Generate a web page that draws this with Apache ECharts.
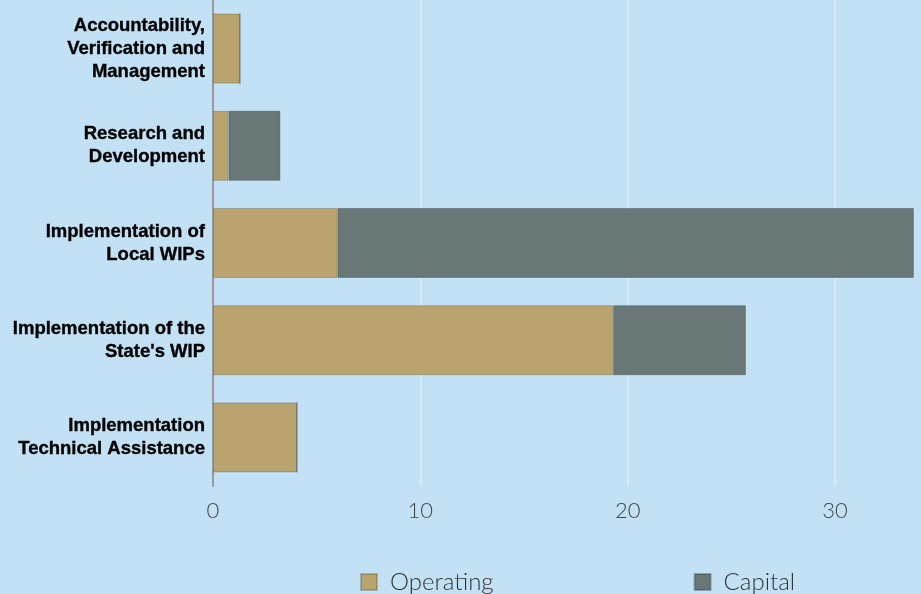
<!DOCTYPE html>
<html>
<head>
<meta charset="utf-8">
<script src="https://cdn.jsdelivr.net/npm/echarts@6/dist/echarts.min.js"></script>
<style>
html,body{margin:0;padding:0;background:#c3e1f5;}
#c{width:921px;height:594px;}
</style>
</head>
<body>
<div id="c"></div>
<script>
const categories = [
  "Implementation\nTechnical Assistance",
  "Implementation of the\nState's WIP",
  "Implementation of\nLocal WIPs",
  "Research and\nDevelopment",
  "Accountability,\nVerification and\nManagement"
];
const operating = [4.05, 19.3, 6.0, 0.75, 1.3];
const capital = [0, 6.4, 27.8, 2.5, 0];
const xTicks = [0, 10, 20, 30];

const chart = echarts.init(document.getElementById('c'), null, {renderer: 'canvas'});
chart.setOption({
  backgroundColor: '#c3e1f5',
  animation: false,
  grid: {left: 213, right: 2, top: 0, bottom: 108, containLabel: false},
  legend: {
    data: ['Operating', 'Capital'],
    left: 355, top: 565,
    itemWidth: 16, itemHeight: 16,
    itemGap: 200,
    icon: 'rect',
    textStyle: {fontFamily: 'Lato', fontWeight: 300, fontSize: 24, color: '#333', padding: [0, 0, 0, 8]}
  },
  xAxis: {
    type: 'value', min: 0, max: 34, interval: 10,
    axisLine: {show: false},
    axisTick: {show: false},
    splitLine: {show: true, lineStyle: {color: ['#d6e9f5', '#d6e9f5', '#d6e9f5', '#d6e9f5', 'rgba(0,0,0,0)'], width: 2}},
    axisLabel: {
      margin: 14,
      fontFamily: 'Lato', fontWeight: 300, fontSize: 22, color: '#444',
      formatter: v => xTicks.includes(v) ? String(v) : ''
    }
  },
  yAxis: {
    type: 'category', data: categories,
    axisLine: {show: true, lineStyle: {color: '#999', width: 2}},
    axisTick: {show: false},
    axisLabel: {
      margin: 8,
      fontFamily: 'Liberation Sans', fontWeight: 'bold', fontSize: 18.5, lineHeight: 23,
      color: '#000', align: 'right', textBorderColor: '#000', textBorderWidth: 0.35
    }
  },
  series: [
    {name: 'Operating', type: 'bar', stack: 't', data: operating, barWidth: 70,
     itemStyle: {color: '#b9a470', borderColor: 'rgba(90,90,70,0.35)', borderWidth: 1}},
    {name: 'Capital', type: 'bar', stack: 't', data: capital, barWidth: 70,
     itemStyle: {color: '#6a7777', borderColor: 'rgba(60,70,70,0.4)', borderWidth: 1}}
  ]
});
</script>
</body>
</html>
